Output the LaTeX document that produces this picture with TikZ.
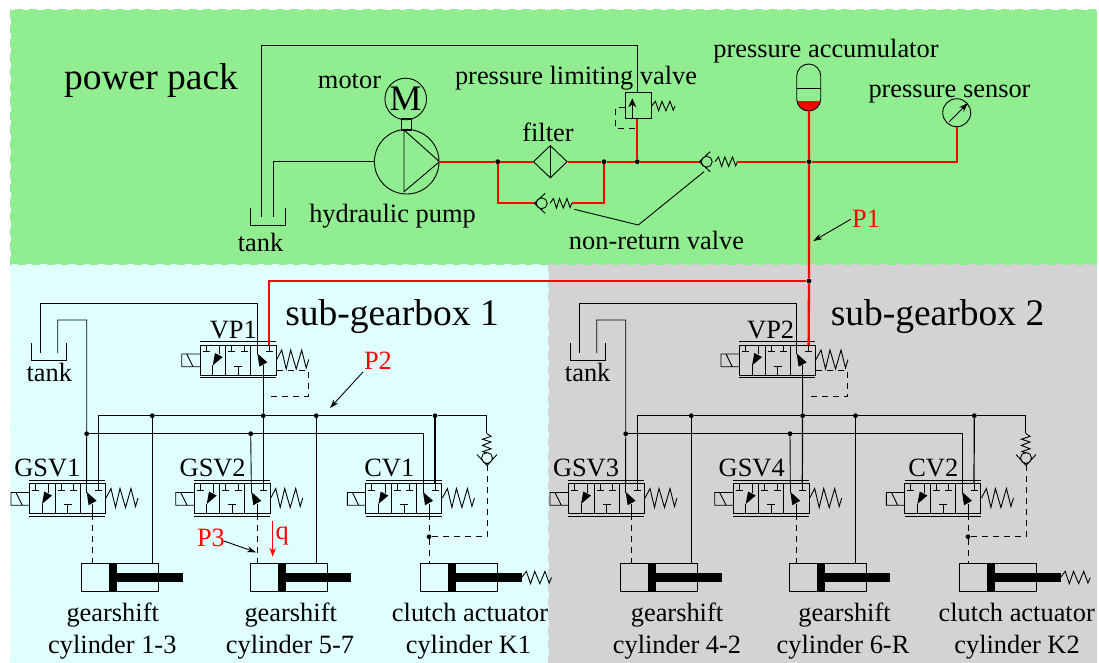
\documentclass[tikz,border=0pt]{standalone}
\usepackage{fontspec}
\setmainfont{Liberation Serif}
\usetikzlibrary{arrows.meta,shapes.geometric}
\definecolor{packgreen}{RGB}{144,238,144}
\definecolor{gearcyan}{RGB}{224,255,255}
\definecolor{geargrey}{RGB}{211,211,211}
\tikzset{
	pipe/.style={line width=0.9pt},
	bus/.style={line width=1.2pt},
	feed/.style={line width=2.3pt, color=red},
	pilot/.style={line width=0.9pt, dash pattern=on 6pt off 5pt},
	joint/.style={circle, fill=black, inner sep=0pt, minimum size=4.8pt},
	zone/.style={line width=1.3pt, dash pattern=on 8pt off 6.5pt},
	lbl/.style={font=\fontsize{26.4}{30}\selectfont, inner sep=0pt, anchor=base, yshift=-1pt},
	biglbl/.style={font=\fontsize{37.5}{42}\selectfont, inner sep=0pt, anchor=base},
	redlbl/.style={lbl, text=red},
	leader/.style={line width=0.9pt, -{Stealth[length=9pt,width=6pt]}},
}
% x,y,rotation:xscale:yscale
\def\coilspring(#1,#2)(#3:#4:#5){\draw[pipe,shift={(#1,#2)},rotate=#3,xscale=#4,yscale=#5] (0,0) -- (5,-9.5) -- (9.5,9.5) -- (14,-9.5) -- (19.5,9.5) -- (25,-9.5) -- (29.5,8.5) -- (32,0);}
\def\checkvalve(#1,#2)(#3){\draw[pipe,shift={(#1,#2)},rotate=#3] (0,0) circle[radius=5.5pt] (3.5,-10) -- (-7.5,0) -- (3.5,10);}
\def\tankcup(#1,#2){\draw[pipe] (#1,#2) -- ++(0,17) -- ++(35.5,0) -- ++(0,-17);}
% name,x,y of the top left corner of the valve body
\def\fourway(#1)(#2,#3){
	\begin{scope}[shift={(#2,#3)}]
		\draw[pipe] (0,0) rectangle (76,30);
		\draw[pipe] (0,-3.5) -- (76,-3.5) (0,32.5) -- (76,32.5);
		\draw[pipe] (25.7,0) -- (25.7,30) (50.7,0) -- (50.7,30);
		\draw[pipe] (0,9) -- (-18.3,9) -- (-18.3,21.7) -- (0,21.7) (-13.3,9) -- (-7,21.7);
		\foreach \tx in {6,31.7,44,69.3}
			\draw[pipe] (\tx,0) -- (\tx,6.7) (\tx-3.5,6.7) -- (\tx+3.5,6.7);
		\draw[pipe] (38.3,30) -- (38.3,21) (34.3,21) -- (42.3,21);
		\draw[pipe] (12.7,30) -- (12.7,20) (19.3,0) -- (19.3,9);
		\fill (12.7,20.5) -- (22.7,12) -- (15,8) -- cycle;
		\draw[pipe] (63.3,30) -- (63.3,20) (57.3,0) -- (57.3,9);
		\fill (57.3,8.3) -- (67.3,17.3) -- (59.3,21.7) -- cycle;
		\coordinate (#1-p) at (69.3,0);
		\coordinate (#1-t) at (57.3,0);
		\coordinate (#1-a) at (63.3,30);
	\end{scope}
	\coilspring(#2+76.7,#3+14.5)(0:1:1)
}
% name,x,y of the top left corner of the barrel
\def\cylinder(#1)(#2,#3){
	\begin{scope}[shift={(#2,#3)}]
		\draw[pipe] (0,0) rectangle (77,28.3);
		\fill (27.6,0) rectangle (35.6,28.3);
		\fill (35.6,10) rectangle (101,18.4);
		\coordinate (#1-top) at (0,0);
	\end{scope}
}

\begin{document}
\begin{tikzpicture}[x=1pt,y=-1pt]
	\useasboundingbox (0,0) rectangle (1099,662);
	%%%%% ZONES %%%%%
	\draw[zone,fill=gearcyan,draw=gearcyan] (10.5,264) rectangle (549,670);
	\draw[zone,fill=geargrey,draw=geargrey] (549,264) rectangle (1096.5,670);
	\draw[zone,fill=packgreen,draw=packgreen] (10.5,10) rectangle (1096.5,264);
	
	\node[biglbl] (powerpack) at (151,89.5) {power pack};
	\node[biglbl] (subgearone) at (392,325) {sub-gearbox 1};
	\node[biglbl] (subgeartwo) at (937.5,325) {sub-gearbox 2};
	
	%%%%% POWER PACK %%%%%
	\node[pipe,draw,circle,inner sep=0pt,minimum size=64.6pt] (pump) at (406.7,161.7) {};
	\node[pipe,draw,circle,inner sep=0pt,minimum size=41.6pt,font=\fontsize{36}{36}\selectfont] (motor) at (405.7,99) {M};
	\draw[pipe] (401.7,118.3) rectangle (411.7,130);
	\draw[pipe] (404,130) -- (pump.east) -- (404,191.7) -- cycle;
	\node[pipe,draw,diamond,inner sep=0pt,minimum width=34pt,minimum height=32.6pt] (filter) at (550.3,161.7) {};
	\draw[pipe] (filter.north) -- (filter.south);
	\node[pipe,draw,rectangle,inner sep=0pt,minimum width=25.3pt,minimum height=26pt] (limitvalve) at (638.3,105.3) {};
	\draw[pipe,-{Stealth[length=9pt,width=8pt]}] (632.3,118.3) -- (632.3,98.3);
	\coilspring(651.7,106)(0:0.73:0.5)
	\node[pipe,draw,circle,inner sep=0pt,minimum size=28pt] (gauge) at (956.7,112.7) {};
	\draw[pipe,-{Stealth[length=9pt,width=6.5pt]}] (949.3,121.7) -- (967.7,103.3);
	\checkvalve(706.7,161.7)(0)
	\coilspring(715,161.7)(0:0.7:0.5)
	\checkvalve(541.7,203.3)(0)
	\coilspring(550,203.3)(0:0.68:0.5)
	\tankcup(250,208.3)
	
	\begin{scope}
		\clip[rounded corners=12pt] (796.7,64) rectangle (820.7,111);
		\fill[red] (796,101) rectangle (821,112);
	\end{scope}
	\draw[pipe,rounded corners=12pt] (796.7,64) rectangle (820.7,111);
	\draw[pipe] (796.7,88.3) -- (820.7,88.3);
	
	\node[joint] (jpa) at (497.7,161.7) {};
	\node[joint] (jpb) at (604,161.7) {};
	\node[joint] (jpc) at (637.3,161.7) {};
	\node[joint] (jpd) at (809,161.7) {};
	\node[joint] (jpe) at (809,281) {};
	\coordinate (accbottom) at (809,111);
	\coordinate (chkone) at (699.3,161.7);
	\coordinate (chkoneend) at (737.3,161.7);
	\coordinate (chktwo) at (534,203.3);
	\coordinate (chktwoend) at (571.7,203.3);
	\coordinate (tankin) at (261.7,217);
	\coordinate (tankout) at (273.7,217);
	
	\draw[pipe] (pump.west) -| (tankout);
	\draw[pipe] (tankin) |- (jpc |- 0,45) -- (jpc |- limitvalve.north);
	\draw[pilot] (limitvalve.west |- 0,107.7) -- (615.5,107.7) -- (615.5,128.3) -- (636.5,128.3);
	
	%%%%% SUB-GEARBOX 1 %%%%%
	\fourway(VPa)(200,345)
	\fourway(GSVa)(29.3,483.5)
	\fourway(GSVb)(194,483.5)
	\fourway(CVa)(365.7,483.5)
	\cylinder(cyla)(81.7,563.3)
	\cylinder(cylb)(250.3,563.3)
	\cylinder(cylc)(420.7,563.3)
	\coilspring(521.7,577.5)(0:0.93:0.65)
	\tankcup(31,343.3)
	\checkvalve(487,458)(90)
	\coilspring(486.7,433.3)(-90:0.62:0.45)
	\draw[pilot] (276.7,370.7) -- (308.3,370.7) -- (308.3,396) -- (270.7,396);
	
	\node[joint] (jaa) at (263.3,415.7) {};
	\node[joint] (jab) at (152.3,415.7) {};
	\node[joint] (jac) at (316.3,415.7) {};
	\node[joint] (jad) at (435,415.7) {};
	\node[joint] (jae) at (86.7,433.7) {};
	\node[joint] (jaf) at (250.7,433.7) {};
	\node[joint] (jag) at (429,536.7) {};
	\coordinate (taa) at (40,353);
	\coordinate (tab) at (57.7,353);
	\coordinate (chka) at (486.7,433.3);
	\coordinate (chkaend) at (487,465);
	
	\draw[pipe] (taa) |- (VPa-t |- 0,303.3) -- (VPa-t);
	\draw[pipe] (tab) |- (jae |- 0,320) -- (jae) -- (GSVa-t);
	\draw[pipe] (jae) -| (CVa-t);
	\draw[pipe] (jaf) -- (GSVb-t);
	\draw[bus] (GSVa-p) |- (jab) -- (jaa) -- (jac) -- (jad) -| (chka);
	\draw[bus] (VPa-a) -- (jaa) -- (GSVb-p);
	\draw[bus] (jad) -- (CVa-p);
	\draw[bus] (jab) -- (jab |- cyla-top);
	\draw[bus] (jac) -- (jac |- cylb-top);
	\draw[pilot] (GSVa-a) -- (GSVa-a |- cyla-top);
	\draw[pilot] (GSVb-a) -- (GSVb-a |- cylb-top);
	\draw[pilot] (CVa-a) -- (jag) -- (CVa-a |- cylc-top);
	\draw[pilot] (jag) -| (chkaend);
	
	%%%%% SUB-GEARBOX 2 %%%%%
	\fourway(VPb)(739.3,345)
	\fourway(GSVc)(568.3,483.5)
	\fourway(GSVd)(733,483.5)
	\fourway(CVb)(904.7,483.5)
	\cylinder(cyld)(620.7,563.3)
	\cylinder(cyle)(789.3,563.3)
	\cylinder(cylf)(959.5,563.3)
	\coilspring(1060.5,577.5)(0:0.93:0.65)
	\tankcup(570,343.3)
	\checkvalve(1026,458)(90)
	\coilspring(1025.7,433.3)(-90:0.62:0.45)
	\draw[pilot] (816,370.7) -- (847.6,370.7) -- (847.6,396) -- (810,396);
	
	\node[joint] (jba) at (802.6,415.7) {};
	\node[joint] (jbb) at (691.3,415.7) {};
	\node[joint] (jbc) at (855.5,415.7) {};
	\node[joint] (jbd) at (974.3,415.7) {};
	\node[joint] (jbe) at (625.7,433.7) {};
	\node[joint] (jbf) at (790,433.7) {};
	\node[joint] (jbg) at (968,536.7) {};
	\coordinate (tba) at (579.3,353);
	\coordinate (tbb) at (596.7,353);
	\coordinate (chkb) at (1025.7,433.3);
	\coordinate (chkbend) at (1026,465);
	
	\draw[pipe] (tba) |- (VPb-t |- 0,303.3) -- (VPb-t);
	\draw[pipe] (tbb) |- (jbe |- 0,320) -- (jbe) -- (GSVc-t);
	\draw[pipe] (jbe) -| (CVb-t);
	\draw[pipe] (jbf) -- (GSVd-t);
	\draw[bus] (GSVc-p) |- (jbb) -- (jba) -- (jbc) -- (jbd) -| (chkb);
	\draw[bus] (VPb-a) -- (jba) -- (GSVd-p);
	\draw[bus] (jbd) -- (CVb-p);
	\draw[bus] (jbb) -- (jbb |- cyld-top);
	\draw[bus] (jbc) -- (jbc |- cyle-top);
	\draw[pilot] (GSVc-a) -- (GSVc-a |- cyld-top);
	\draw[pilot] (GSVd-a) -- (GSVd-a |- cyle-top);
	\draw[pilot] (CVb-a) -- (jbg) -- (CVb-a |- cylf-top);
	\draw[pilot] (jbg) -| (chkbend);
	
	%%%%% PRESSURE LINE %%%%%
	\draw[feed] (pump.east) -- (jpa) -- (filter.west);
	\draw[feed] (filter.east) -- (jpb) -- (jpc) -- (chkone);
	\draw[feed] (jpa) |- (chktwo);
	\draw[feed] (chktwoend) -| (jpb);
	\draw[feed] (jpc) -- (jpc |- limitvalve.south);
	\draw[feed] (chkoneend) -- (jpd) -| (gauge.south);
	\draw[feed] (accbottom) -- (jpd) -- (jpe) -- (VPb-p);
	\draw[feed] (jpe) -| (VPa-p);
	
	%%%%% LABELS %%%%%
	\node[lbl] (motortxt) at (349.5,87) {motor};
	\node[lbl] (limittxt) at (576,83) {pressure limiting valve};
	\node[lbl] (acctxt) at (826,56.7) {pressure accumulator};
	\node[lbl] (sensortxt) at (949.5,96) {pressure sensor};
	\node[lbl] (filtertxt) at (548,140.7) {filter};
	\node[lbl] (pumptxt) at (392.5,221.7) {hydraulic pump};
	\node[lbl] (tanktxt) at (260.5,250.7) {tank};
	\node[lbl] (returntxt) at (656.5,248) {non-return valve};
	\coordinate (returna) at (574.3,209.3);
	\coordinate (returnb) at (638.3,225);
	\coordinate (returnc) at (704,171.7);
	\draw[pipe] (returna) -- (returnb) -- (returnc);
	\node[redlbl] (pone) at (866,226) {P1};
	\draw[leader] (850.7,219.3) -- (813.3,241);
	
	\node[lbl] (tankatxt) at (49.3,380) {tank};
	\node[lbl] (tankbtxt) at (587.7,380) {tank};
	\node[lbl] (vpatxt) at (233.3,337.3) {VP1};
	\node[lbl] (vpbtxt) at (770.7,337.3) {VP2};
	\node[lbl] (gsvatxt) at (47.3,475) {GSV1};
	\node[lbl] (gsvbtxt) at (212.7,475) {GSV2};
	\node[lbl] (cvatxt) at (389.3,475) {CV1};
	\node[lbl] (gsvctxt) at (586,475) {GSV3};
	\node[lbl] (gsvdtxt) at (751.7,475) {GSV4};
	\node[lbl] (cvbtxt) at (933.3,475) {CV2};
	
	\node[redlbl] (ptwo) at (378,368) {P2};
	\draw[leader] (363,372) -- (330,408);
	\node[redlbl] (pthree) at (211,545) {P3};
	\draw[leader] (224,541) -- (256,552.3);
	\node[redlbl] (qtxt) at (282.3,538) {q};
	\draw[line width=0.9pt,color=red,-{Stealth[length=9pt,width=6.5pt]}] (272.7,520.7) -- (272.7,556.7);
	
	\node[lbl] (gearatxt) at (112.7,620) {gearshift};
	\node[lbl] (cylatxt) at (112.3,652.7) {cylinder 1-3};
	\node[lbl] (gearbtxt) at (290.7,620) {gearshift};
	\node[lbl] (cylbtxt) at (290,652.7) {cylinder 5-7};
	\node[lbl] (clutchatxt) at (470,620) {clutch actuator};
	\node[lbl] (cylctxt) at (468.5,652.7) {cylinder K1};
	\node[lbl] (gearctxt) at (677,620) {gearshift};
	\node[lbl] (cyldtxt) at (677,652.7) {cylinder 4-2};
	\node[lbl] (geardtxt) at (844.5,620) {gearshift};
	\node[lbl] (cyletxt) at (843,652.7) {cylinder 6-R};
	\node[lbl] (clutchbtxt) at (1016.7,620) {clutch actuator};
	\node[lbl] (cylftxt) at (1017,652.7) {cylinder K2};
\end{tikzpicture}
\end{document}
